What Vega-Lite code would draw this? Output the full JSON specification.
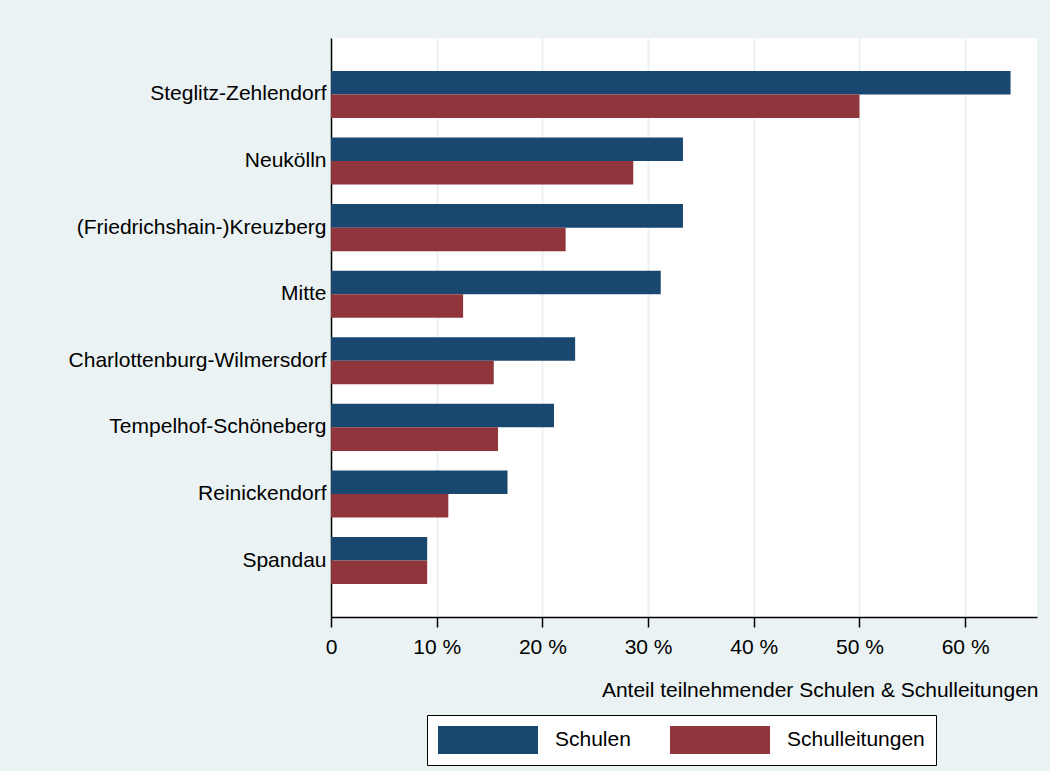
{
  "$schema": "https://vega.github.io/schema/vega-lite/v6.json",
  "width": 706,
  "height": 579,
  "autosize": {"type": "none"},
  "padding": {"left": 331, "top": 38, "right": 13, "bottom": 154},
  "background": "#EAF2F3",
  "config": {
    "font": "Liberation Sans",
    "view": {"fill": "white", "stroke": null}
  },
  "data": {
    "values": [
      {"bezirk": "Steglitz-Zehlendorf", "gruppe": "Schulen", "anteil": 64.3},
      {"bezirk": "Steglitz-Zehlendorf", "gruppe": "Schulleitungen", "anteil": 50.0},
      {"bezirk": "Neukölln", "gruppe": "Schulen", "anteil": 33.3},
      {"bezirk": "Neukölln", "gruppe": "Schulleitungen", "anteil": 28.6},
      {"bezirk": "(Friedrichshain-)Kreuzberg", "gruppe": "Schulen", "anteil": 33.3},
      {"bezirk": "(Friedrichshain-)Kreuzberg", "gruppe": "Schulleitungen", "anteil": 22.2},
      {"bezirk": "Mitte", "gruppe": "Schulen", "anteil": 31.2},
      {"bezirk": "Mitte", "gruppe": "Schulleitungen", "anteil": 12.5},
      {"bezirk": "Charlottenburg-Wilmersdorf", "gruppe": "Schulen", "anteil": 23.1},
      {"bezirk": "Charlottenburg-Wilmersdorf", "gruppe": "Schulleitungen", "anteil": 15.4},
      {"bezirk": "Tempelhof-Schöneberg", "gruppe": "Schulen", "anteil": 21.1},
      {"bezirk": "Tempelhof-Schöneberg", "gruppe": "Schulleitungen", "anteil": 15.8},
      {"bezirk": "Reinickendorf", "gruppe": "Schulen", "anteil": 16.7},
      {"bezirk": "Reinickendorf", "gruppe": "Schulleitungen", "anteil": 11.1},
      {"bezirk": "Spandau", "gruppe": "Schulen", "anteil": 9.1},
      {"bezirk": "Spandau", "gruppe": "Schulleitungen", "anteil": 9.1}
    ]
  },
  "mark": {"type": "bar"},
  "encoding": {
    "y": {
      "field": "bezirk",
      "type": "nominal",
      "sort": null,
      "scale": {"paddingInner": 0.294, "paddingOuter": 0.495},
      "axis": {
        "title": null,
        "ticks": false,
        "labelFontSize": 21,
        "labelColor": "#000000",
        "labelPadding": 5,
        "domainColor": "#000000",
        "domainWidth": 1.5,
        "grid": false,
        "labelLimit": 400
      }
    },
    "yOffset": {
      "field": "gruppe",
      "type": "nominal",
      "scale": {"paddingInner": 0, "paddingOuter": 0}
    },
    "x": {
      "field": "anteil",
      "type": "quantitative",
      "scale": {"domain": [0, 66.8], "nice": false, "zero": true},
      "axis": {
        "values": [0, 10, 20, 30, 40, 50, 60],
        "labelExpr": "datum.value == 0 ? '0' : datum.value + ' %'",
        "labelFlush": false,
        "labelFontSize": 21,
        "labelColor": "#000000",
        "labelPadding": 9.5,
        "tickSize": 10,
        "tickColor": "#000000",
        "tickWidth": 1.5,
        "domainColor": "#000000",
        "domainWidth": 1.5,
        "grid": true,
        "gridColor": "#EAF2F3",
        "gridWidth": 2,
        "title": "Anteil teilnehmender Schulen & Schulleitungen",
        "titleFontSize": 21,
        "titleFontWeight": "normal",
        "titleColor": "#000000",
        "titleAnchor": "end",
        "titleAlign": "right",
        "titleX": 707,
        "titleY": 79,
        "titleBaseline": "alphabetic"
      }
    },
    "color": {
      "field": "gruppe",
      "type": "nominal",
      "scale": {"domain": ["Schulen", "Schulleitungen"], "range": ["#1A476F", "#90353B"]},
      "legend": {
        "title": null,
        "orient": "none",
        "legendX": 96,
        "legendY": 677,
        "direction": "horizontal",
        "symbolType": "M-1,-1L6.143,-1L6.143,1L-1,1Z",
        "symbolSize": 784,
        "symbolStrokeWidth": 0,
        "symbolOpacity": 1,
        "labelFontSize": 21,
        "labelColor": "#000000",
        "labelOffset": 89,
        "columnPadding": 39,
        "padding": 11,
        "strokeColor": "#000000",
        "fillColor": "#FFFFFF",
        "labelLimit": 300
      }
    }
  }
}
